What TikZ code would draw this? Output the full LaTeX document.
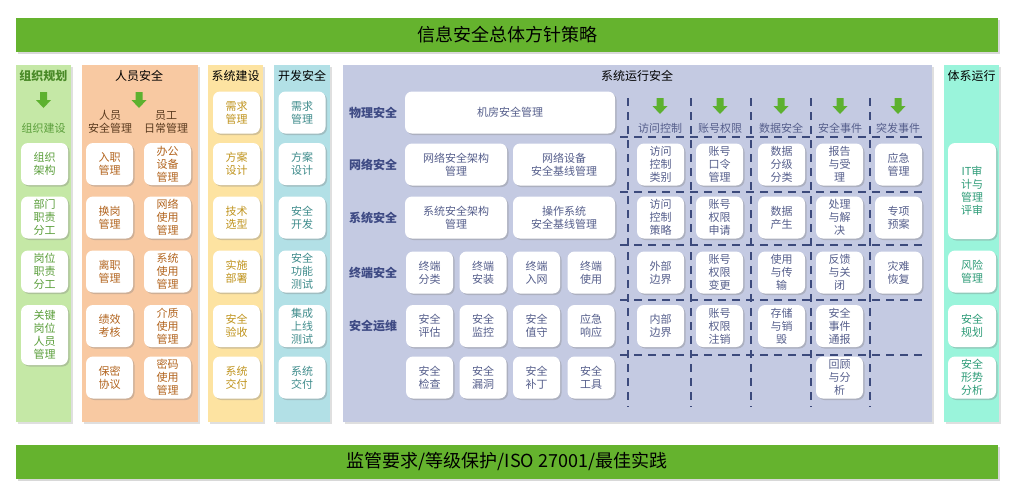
\documentclass[tikz,border=0pt]{standalone}
\usepackage{fontspec}
\setmainfont{Noto Sans CJK SC}
\usepackage{tikz}
\usetikzlibrary{shadows}
\usepackage{xcolor}

\definecolor{barGreen}{HTML}{65B32E}
\definecolor{arrowGreen}{HTML}{5DB12F}
\definecolor{zzFill}{HTML}{C5E8A6}
\definecolor{zzText}{HTML}{5A9E3A}
\definecolor{zzHead}{HTML}{4A8A28}
\definecolor{ryFill}{HTML}{F8C9A2}
\definecolor{ryText}{HTML}{B2641E}
\definecolor{ryHead}{HTML}{5A3A1E}
\definecolor{jsFill}{HTML}{FDE3A1}
\definecolor{jsText}{HTML}{C0941E}
\definecolor{kfFill}{HTML}{B2E0E6}
\definecolor{kfText}{HTML}{3F8C8C}
\definecolor{yxFill}{HTML}{C4CAE2}
\definecolor{yxText}{HTML}{565F8C}
\definecolor{rowBlue}{HTML}{3E4A84}
\definecolor{gridBlue}{HTML}{3C4A7C}
\definecolor{txFill}{HTML}{9AF4DB}
\definecolor{txText}{HTML}{2E9C78}

\begin{document}
\begin{tikzpicture}[
  x=1pt, y=-1pt,
  colbg/.style={fill=#1,
    drop shadow={shadow xshift=1.5pt, shadow yshift=-1.5pt, opacity=0.25}},
  bar/.style={
    rectangle, fill=barGreen, minimum width=982pt, minimum height=34pt,
    font=\fontsize{18}{20}\selectfont, text=black,
    drop shadow={shadow xshift=1.5pt, shadow yshift=-2pt, opacity=0.3}
  },
  box/.style={
    rectangle, rounded corners=7pt, fill=white, text=#1,
    align=center, minimum width=47pt, minimum height=42pt, inner sep=1pt,
    font=\fontsize{11}{13}\selectfont,
    drop shadow={shadow xshift=1.5pt, shadow yshift=-1.5pt, opacity=0.35}
  },
  coltitle/.style={font=\fontsize{12}{14}\selectfont, text=black},
  rowlabel/.style={font=\bfseries\fontsize{12}{14}\selectfont, text=rowBlue},
  hdr/.style={font=\fontsize{11}{13}\selectfont, text=yxText},
  grid/.style={draw=gridBlue, line width=2pt, dash pattern=on 8pt off 6pt},
  downarr/.pic={
    \fill[arrowGreen] (-3.5,0) -- (3.5,0) -- (3.5,8) -- (7.5,8)
      -- (0,16) -- (-7.5,8) -- (-3.5,8) -- cycle;
  }
]

\useasboundingbox (0,0) rectangle (1009,491);
\fill[white] (0,0) rectangle (1009,491);

% Top and bottom bars
\node[bar] (policy) at (507,35) {信息安全总体方针策略};
\node[bar] (compliance) at (507,461.5) {监管要求/等级保护/ISO 27001/最佳实践};

% Column backgrounds
\path[colbg=zzFill] (16,65) rectangle (71,422);
\path[colbg=ryFill] (82,65) rectangle (198,422);
\path[colbg=jsFill] (208,65) rectangle (263,422);
\path[colbg=kfFill] (274,65) rectangle (330,422);
\path[colbg=yxFill] (343,65) rectangle (932,422);
\path[colbg=txFill] (944,65) rectangle (999,422);

% 组织规划
\node[font=\bfseries\fontsize{12}{14}\selectfont, text=zzHead] (zzTitle) at (43.5,76) {组织规划};
\pic at (43.5,92) {downarr};
\node[font=\fontsize{11}{13}\selectfont, text=zzText] (zzSub) at (43.5,128) {组织建设};
\node[box=zzText] (zz1) at (44.5,164) {组织\\架构};
\node[box=zzText] (zz2) at (44.5,217.5) {部门\\职责\\分工};
\node[box=zzText] (zz3) at (44.5,271.5) {岗位\\职责\\分工};
\node[box=zzText, minimum height=60pt] (zz4) at (44.5,335) {关键\\岗位\\人员\\管理};

% 人员安全
\node[coltitle] (ryTitle) at (139,76) {人员安全};
\pic at (139,92) {downarr};
\node[font=\fontsize{11}{13}\selectfont, text=ryHead, align=center] (rySubA) at (110,122) {人员\\安全管理};
\node[font=\fontsize{11}{13}\selectfont, text=ryHead, align=center] (rySubB) at (166,122) {员工\\日常管理};
\node[box=ryText] (ryA1) at (109.5,164) {入职\\管理};
\node[box=ryText] (ryA2) at (109.5,217.5) {换岗\\管理};
\node[box=ryText] (ryA3) at (109.5,271.5) {离职\\管理};
\node[box=ryText] (ryA4) at (109.5,326) {绩效\\考核};
\node[box=ryText] (ryA5) at (109.5,377.5) {保密\\协议};
\node[box=ryText] (ryB1) at (167.5,164) {办公\\设备\\管理};
\node[box=ryText] (ryB2) at (167.5,217.5) {网络\\使用\\管理};
\node[box=ryText] (ryB3) at (167.5,271.5) {系统\\使用\\管理};
\node[box=ryText] (ryB4) at (167.5,326) {介质\\使用\\管理};
\node[box=ryText] (ryB5) at (167.5,377.5) {密码\\使用\\管理};

% 系统建设
\node[coltitle] (jsTitle) at (235.5,76) {系统建设};
\node[box=jsText] (js1) at (236.5,112.5) {需求\\管理};
\node[box=jsText] (js2) at (236.5,164) {方案\\设计};
\node[box=jsText] (js3) at (236.5,217.5) {技术\\选型};
\node[box=jsText] (js4) at (236.5,271.5) {实施\\部署};
\node[box=jsText] (js5) at (236.5,326) {安全\\验收};
\node[box=jsText] (js6) at (236.5,377.5) {系统\\交付};

% 开发安全
\node[coltitle] (kfTitle) at (302,76) {开发安全};
\node[box=kfText] (kf1) at (302,112.5) {需求\\管理};
\node[box=kfText] (kf2) at (302,164) {方案\\设计};
\node[box=kfText] (kf3) at (302,217.5) {安全\\开发};
\node[box=kfText] (kf4) at (302,271.5) {安全\\功能\\测试};
\node[box=kfText] (kf5) at (302,326) {集成\\上线\\测试};
\node[box=kfText] (kf6) at (302,377.5) {系统\\交付};

% 系统运行安全
\node[coltitle] (yxTitle) at (637,76) {系统运行安全};
\node[rowlabel] (rowPhy) at (373,112.5) {物理安全};
\node[rowlabel] (rowNet) at (373,164.5) {网络安全};
\node[rowlabel] (rowSys) at (373,217.5) {系统安全};
\node[rowlabel] (rowTer) at (373,272.5) {终端安全};
\node[rowlabel] (rowOps) at (373,326) {安全运维};

\node[box=yxText, minimum width=210pt] (phy) at (510,112.5) {机房安全管理};
\node[box=yxText, minimum width=102pt] (netA) at (456,164.5) {网络安全架构\\管理};
\node[box=yxText, minimum width=102pt] (netB) at (564,164.5) {网络设备\\安全基线管理};
\node[box=yxText, minimum width=102pt] (sysA) at (456,217.5) {系统安全架构\\管理};
\node[box=yxText, minimum width=102pt] (sysB) at (564,217.5) {操作系统\\安全基线管理};

\node[box=yxText] (ter1) at (429.5,272.5) {终端\\分类};
\node[box=yxText] (ter2) at (483,272.5) {终端\\安装};
\node[box=yxText] (ter3) at (536.5,272.5) {终端\\入网};
\node[box=yxText] (ter4) at (591,272.5) {终端\\使用};

\node[box=yxText] (ops1) at (429.5,326) {安全\\评估};
\node[box=yxText] (ops2) at (483,326) {安全\\监控};
\node[box=yxText] (ops3) at (536.5,326) {安全\\值守};
\node[box=yxText] (ops4) at (591,326) {应急\\响应};
\node[box=yxText] (ops5) at (429.5,377.5) {安全\\检查};
\node[box=yxText] (ops6) at (483,377.5) {安全\\漏洞};
\node[box=yxText] (ops7) at (536.5,377.5) {安全\\补丁};
\node[box=yxText] (ops8) at (591,377.5) {安全\\工具};

% Dashed grid
\foreach \gx in {628,691,751,811,870}
  \draw[grid] (\gx,98) -- (\gx,407);
\foreach \gy in {137,192,245,300,355}
  \draw[grid] (620,\gy) -- (922,\gy);

% Grid headers
\pic at (660,98) {downarr};
\pic at (720,98) {downarr};
\pic at (781,98) {downarr};
\pic at (840,98) {downarr};
\pic at (898,98) {downarr};
\node[hdr] (hdrAcc) at (660,128) {访问控制};
\node[hdr] (hdrAcct) at (720,128) {账号权限};
\node[hdr] (hdrData) at (781,128) {数据安全};
\node[hdr] (hdrEvt) at (840,128) {安全事件};
\node[hdr] (hdrEmg) at (898,128) {突发事件};

% Grid boxes
\node[box=yxText] (acc1) at (660.5,164.5) {访问\\控制\\类别};
\node[box=yxText] (acc2) at (660.5,217.5) {访问\\控制\\策略};
\node[box=yxText] (acc3) at (660.5,272.5) {外部\\边界};
\node[box=yxText] (acc4) at (660.5,326) {内部\\边界};

\node[box=yxText] (acct1) at (719.5,164.5) {账号\\口令\\管理};
\node[box=yxText] (acct2) at (719.5,217.5) {账号\\权限\\申请};
\node[box=yxText] (acct3) at (719.5,272.5) {账号\\权限\\变更};
\node[box=yxText] (acct4) at (719.5,326) {账号\\权限\\注销};

\node[box=yxText] (data1) at (781.5,164.5) {数据\\分级\\分类};
\node[box=yxText] (data2) at (781.5,217.5) {数据\\产生};
\node[box=yxText] (data3) at (781.5,272.5) {使用\\与传\\输};
\node[box=yxText] (data4) at (781.5,326) {存储\\与销\\毁};

\node[box=yxText] (evt1) at (839.5,164.5) {报告\\与受\\理};
\node[box=yxText] (evt2) at (839.5,217.5) {处理\\与解\\决};
\node[box=yxText] (evt3) at (839.5,272.5) {反馈\\与关\\闭};
\node[box=yxText] (evt4) at (839.5,326) {安全\\事件\\通报};
\node[box=yxText] (evt5) at (839.5,377.5) {回顾\\与分\\析};

\node[box=yxText] (emg1) at (898.5,164.5) {应急\\管理};
\node[box=yxText] (emg2) at (898.5,217.5) {专项\\预案};
\node[box=yxText] (emg3) at (898.5,272.5) {灾难\\恢复};

% 体系运行
\node[coltitle] (txTitle) at (971.5,76) {体系运行};
\node[box=txText, minimum width=48pt, minimum height=96pt] (tx1) at (972,191) {IT审\\计与\\管理\\评审};
\node[box=txText, minimum width=48pt] (tx2) at (972,271.5) {风险\\管理};
\node[box=txText, minimum width=48pt] (tx3) at (972,326) {安全\\规划};
\node[box=txText, minimum width=48pt] (tx4) at (972,377.5) {安全\\形势\\分析};

\end{tikzpicture}
\end{document}
